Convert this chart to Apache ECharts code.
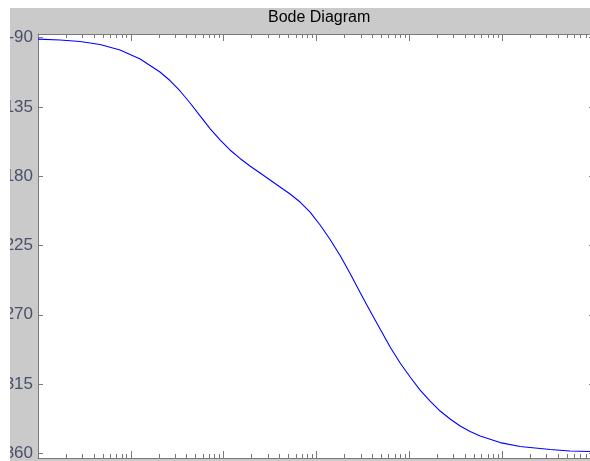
<!DOCTYPE html>
<html>
<head>
<meta charset="utf-8">
<script src="https://cdn.jsdelivr.net/npm/echarts@6/dist/echarts.min.js"></script>
<style>
html,body{margin:0;padding:0;background:#fff;}
#chart{width:590px;height:461px;}
</style>
</head>
<body>
<div id="chart"></div>
<script>
//频率 (rad/s) 和相位 (deg)
var freq = [1, 1.73, 2.84, 4.66, 7.65, 12.6, 20.6, 26.4, 33.9, 43.5, 55.7, 71.3, 91.4, 117, 150, 192, 247, 316, 405,
    519, 666, 853, 1094, 1402, 1796, 2302, 2951, 3781, 4845, 6209, 7957, 10200, 13070, 16750, 21470, 27510, 35250,
    45200, 57900, 95100, 156000, 329000, 537000, 1000000];
var phase = [-91.0, -91.6, -92.6, -94.5, -98.1, -103.9, -112.4, -117.9, -124.7, -132.5, -140.9, -149.1, -156.5,
    -163.0, -168.5, -173.4, -178.0, -182.5, -187.0, -191.6, -196.8, -203.3, -211.7, -221.1, -231.5, -243.2, -255.6,
    -267.6, -279.3, -290.9, -301.3, -310.4, -318.9, -326.0, -332.5, -337.7, -342.2, -345.8, -348.7, -353.0, -355.5,
    -357.5, -358.5, -358.8];
var yTicks = [-90, -135, -180, -225, -270, -315, -360];
var decades = [0, 1, 2, 3, 4, 5, 6];

var axisColor = '#7a7a7a';
var labelColor = '#4a5068';

//x轴刻度位置 (log10空间)
var majorPos = decades.slice();
var minorPos = [];
for (var d = 0; d < 6; d++) {
    for (var k = 2; k <= 9; k++) minorPos.push(d + Math.log10(k));
}

function tickAxis(pos, values, len, showLine) {
    return {
        type: 'value', position: pos, min: 0, max: 6, gridIndex: 0,
        axisLine: {show: showLine, onZero: false, lineStyle: {color: axisColor, width: 1}},
        axisTick: {show: true, inside: true, length: len, customValues: values, lineStyle: {color: axisColor}},
        axisLabel: {show: false},
        splitLine: {show: false}
    };
}

var data = [];
for (var i = 0; i < freq.length; i++) data.push([freq[i], phase[i]]);

var chart = echarts.init(document.getElementById('chart'), null, {renderer: 'canvas'});
var option = {
    backgroundColor: '#cacaca',
    animation: false,
    title: {
        text: 'Bode Diagram', left: 263, top: 5,
        textStyle: {fontFamily: 'Liberation Sans, Arial', fontSize: 16, fontWeight: 'normal', color: '#000'}
    },
    grid: {
        left: 38, right: -5, top: 34, bottom: 3, show: true, backgroundColor: '#fff', borderWidth: 0,
        outerBoundsMode: 'none', containLabel: false
    },
    xAxis: [
        {
            type: 'log', logBase: 10, min: 1, max: 1000000, position: 'bottom',
            axisLine: {show: false}, axisTick: {show: false}, axisLabel: {show: false}, splitLine: {show: false}
        },
        tickAxis('bottom', majorPos, 7, true),
        tickAxis('bottom', minorPos, 4, false),
        tickAxis('top', majorPos, 7, true),
        tickAxis('top', minorPos, 4, false)
    ],
    yAxis: [
        {
            type: 'value', min: -363, max: -87.7, position: 'left',
            axisLine: {show: true, onZero: false, lineStyle: {color: axisColor, width: 1}},
            axisTick: {show: true, inside: true, length: 5, customValues: yTicks, lineStyle: {color: axisColor}},
            axisLabel: {
                customValues: yTicks, margin: 5, color: labelColor,
                fontFamily: 'Liberation Sans, Arial', fontSize: 17
            },
            splitLine: {show: false}
        },
        {
            type: 'value', min: -363, max: -87.7, position: 'right',
            axisLine: {show: true, onZero: false, lineStyle: {color: axisColor, width: 1}},
            axisTick: {show: true, inside: true, length: 6, customValues: yTicks, lineStyle: {color: axisColor}},
            axisLabel: {show: false},
            splitLine: {show: false}
        }
    ],
    series: [{
        type: 'line',
        xAxisIndex: 0, yAxisIndex: 0,
        data: data,
        showSymbol: false,
        smooth: false,
        lineStyle: {color: '#0000ff', width: 1.1}
    }],
    //截图边缘的白色部分
    graphic: [
        {type: 'rect', z: 100, shape: {x: 0, y: 0, width: 10, height: 461}, style: {fill: '#fff'}},
        {type: 'rect', z: 100, shape: {x: 0, y: 0, width: 590, height: 8}, style: {fill: '#fff'}}
    ]
};
chart.setOption(option);
</script>
</body>
</html>
